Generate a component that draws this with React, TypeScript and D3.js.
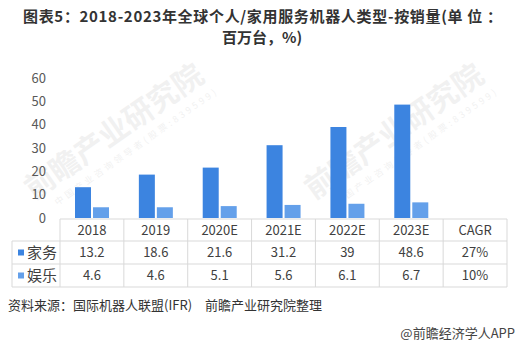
import React from "react";
import * as d3 from "d3";

const categories = ["2018", "2019", "2020E", "2021E", "2022E", "2023E"];
const seriesNames = ["家务", "娱乐"];
const housework = [13.2, 18.6, 21.6, 31.2, 39, 48.6];
const entertainment = [4.6, 4.6, 5.1, 5.6, 6.1, 6.7];
const cagr = ["27%", "10%"];
const yTicks = [0, 10, 20, 30, 40, 50, 60];
const colors = ["#3C84E0", "#64A0EA"];

const W = 523;
const H = 346;
const font = "'Noto Sans CJK SC', 'Noto Sans', sans-serif";

export default function App() {
  const cols = [...categories, "CAGR"];
  const x = d3.scaleBand<string>().domain(cols).range([60, 507]).paddingInner(0).paddingOuter(0);
  const y = d3.scaleLinear().domain([0, 60]).range([218, 78]);
  const bw = x.bandwidth();
  const rowsY = [219, 241, 264, 287];
  const series = [housework, entertainment];
  const gridColor = "#D9D9D9";

  return (
    <svg width={W} height={H} style={{ position: "absolute", left: 0, top: 0, background: "#fff" }} fontFamily={font}>
      {/* watermark */}
      {[[120, 140], [400, 140]].map(([cx, cy], i) => (
        <g key={i} transform={`translate(${cx},${cy}) rotate(-35)`} opacity={0.08}>
          <text x={0} y={0} textAnchor="middle" fontSize={30} fontWeight="bold" fill="#555">前瞻产业研究院</text>
          <text x={10} y={18} textAnchor="middle" fontSize={9} fill="#555" letterSpacing={3}>中国产业咨询领导者(股票:839599)</text>
        </g>
      ))}
      {/* title */}
      <text x={23} y={22} fontSize={15} fontWeight="bold" fill="#333" textLength={479} lengthAdjust="spacing">
        图表5：2018-2023年全球个人/家用服务机器人类型-按销量(单 位 ：
      </text>
      <text x={262} y={43} textAnchor="middle" fontSize={15} fontWeight="bold" fill="#333">
        百万台，%)
      </text>
      {/* y axis labels */}
      {yTicks.map((t) => (
        <text key={t} x={46} y={y(t)} dy="0.35em" textAnchor="end" fontSize={13} fill="#595959">
          {t}
        </text>
      ))}
      {/* bars */}
      {categories.map((c, i) => (
        <g key={c}>
          <rect x={(x(c) as number) + 15} y={y(housework[i])} width={16} height={y(0) - y(housework[i])} fill={colors[0]} />
          <rect x={(x(c) as number) + 33} y={y(entertainment[i])} width={16} height={y(0) - y(entertainment[i])} fill={colors[1]} />
        </g>
      ))}
      {/* table grid */}
      <line x1={60} x2={507} y1={rowsY[0]} y2={rowsY[0]} stroke={gridColor} />
      {rowsY.slice(1).map((ry) => (
        <line key={ry} x1={12} x2={507} y1={ry} y2={ry} stroke={gridColor} />
      ))}
      <line x1={12} x2={12} y1={rowsY[1]} y2={rowsY[3]} stroke={gridColor} />
      {cols.map((c) => (
        <line key={c} x1={x(c) as number} x2={x(c) as number} y1={rowsY[0]} y2={rowsY[3]} stroke={gridColor} />
      ))}
      <line x1={507} x2={507} y1={rowsY[0]} y2={rowsY[3]} stroke={gridColor} />
      {/* header */}
      {cols.map((c) => (
        <text key={c} x={(x(c) as number) + bw / 2} y={(rowsY[0] + rowsY[1]) / 2} dy="0.35em" textAnchor="middle" fontSize={13} fill="#404040">
          {c}
        </text>
      ))}
      {/* rows */}
      {series.map((vals, r) => {
        const cy = (rowsY[r + 1] + rowsY[r + 2]) / 2;
        return (
          <g key={r}>
            <rect x={18} y={cy - 3} width={6} height={6} fill={colors[r]} />
            <text x={27} y={cy} dy="0.35em" fontSize={15} fill="#404040">{seriesNames[r]}</text>
            {vals.map((v, i) => (
              <text key={i} x={(x(categories[i]) as number) + bw / 2} y={cy} dy="0.35em" textAnchor="middle" fontSize={13} fill="#404040">
                {v}
              </text>
            ))}
            <text x={(x("CAGR") as number) + bw / 2} y={cy} dy="0.35em" textAnchor="middle" fontSize={13} fill="#404040">
              {cagr[r]}
            </text>
          </g>
        );
      })}
      {/* footer */}
      <text x={8} y={310} fontSize={13} fill="#333">资料来源：国际机器人联盟(IFR)　前瞻产业研究院整理</text>
      <text x={515} y={338} textAnchor="end" fontSize={13} fill="#444">@前瞻经济学人APP</text>
    </svg>
  );
}
